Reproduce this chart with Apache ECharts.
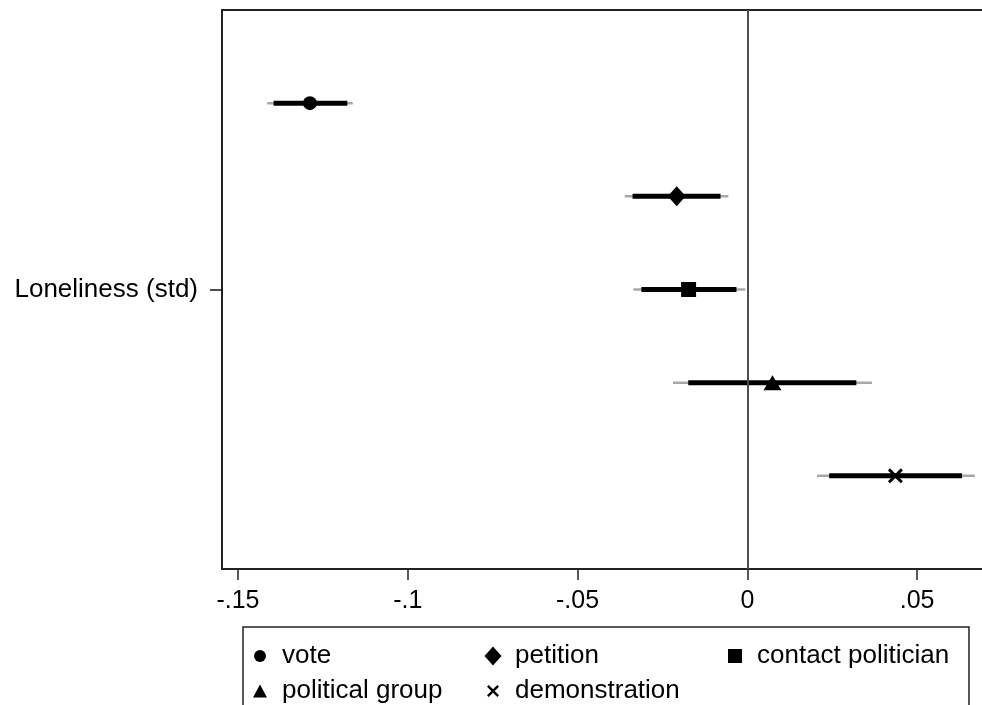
<!DOCTYPE html>
<html>
<head>
<meta charset="utf-8">
<script src="https://cdn.jsdelivr.net/npm/echarts@6/dist/echarts.min.js"></script>
<style>
  html, body { margin: 0; padding: 0; background: #fff; }
  #chart { width: 982px; height: 705px; }
</style>
</head>
<body>
<div id="chart"></div>
<script>
// Effect of standardized loneliness on five forms of political participation
const models = ['vote', 'petition', 'contact politician', 'political group', 'demonstration'];
const coef = [-0.1288, -0.0208, -0.0173, 0.0074, 0.0436];
// narrower interval (thick bar)
const innerLo = [-0.1395, -0.0338, -0.0312, -0.0174, 0.0241];
const innerHi = [-0.1178, -0.0079, -0.0032, 0.0321, 0.0632];
// wider interval (thin grey whisker)
const outerLo = [-0.1414, -0.0361, -0.0336, -0.0219, 0.0205];
const outerHi = [-0.1162, -0.0056, -0.0006, 0.0367, 0.0670];
const xTicks = [-0.15, -0.1, -0.05, 0, 0.05];
const rowLabel = 'Loneliness (std)';

const FONT = 'Liberation Sans, Arial, sans-serif';
const crossPath = 'path://M0,1.4L1.4,0L5,3.6L8.6,0L10,1.4L6.4,5L10,8.6L8.6,10L5,6.4L1.4,10L0,8.6L3.6,5Z';
const symbols = {
  'vote': { symbol: 'circle', size: 14, legend: [12, 12] },
  'petition': { symbol: 'diamond', size: [18, 20], legend: [17, 19] },
  'contact politician': { symbol: 'rect', size: 15, legend: [14, 14] },
  'political group': { symbol: 'triangle', size: [18, 15], legend: [14, 13] },
  'demonstration': { symbol: crossPath, size: 15, legend: [12, 12] }
};

function fmtTick(v) {
  if (v === 0) return '0';
  const s = String(Math.abs(v)).replace(/^0/, '');
  return (v < 0 ? '-' : '') + s;
}

// row offsets: models stacked around the single coefficient row
const rowPos = models.map((m, i) => i + 1);

const ciData = models.map((m, i) => [outerLo[i], outerHi[i], innerLo[i], innerHi[i], rowPos[i]]);

const series = [{
  name: 'ci',
  type: 'custom',
  silent: true,
  z: 2,
  data: ciData,
  encode: { x: [0, 1], y: 4 },
  renderItem: function (params, api) {
    const y = api.value(4);
    const o1 = api.coord([api.value(0), y]);
    const o2 = api.coord([api.value(1), y]);
    const i1 = api.coord([api.value(2), y]);
    const i2 = api.coord([api.value(3), y]);
    return {
      type: 'group',
      children: [{
        type: 'line',
        shape: { x1: o1[0], y1: o1[1], x2: o2[0], y2: o2[1] },
        style: { stroke: '#a8a8a8', lineWidth: 2.5, lineCap: 'butt' }
      }, {
        type: 'line',
        shape: { x1: i1[0], y1: i1[1], x2: i2[0], y2: i2[1] },
        style: { stroke: '#000', lineWidth: 5, lineCap: 'butt' }
      }]
    };
  },
  markLine: {
    silent: true,
    symbol: 'none',
    label: { show: false },
    lineStyle: { color: '#4d4d4d', width: 2, type: 'solid' },
    data: [{ xAxis: 0 }]
  }
}];

models.forEach((m, i) => {
  series.push({
    name: m,
    type: 'scatter',
    z: 5,
    symbol: symbols[m].symbol,
    symbolSize: symbols[m].size,
    itemStyle: { color: '#000', opacity: 1 },
    data: [[coef[i], rowPos[i]]]
  });
});

// one legend entry per slot so each key symbol keeps its own size
function legendItem(name, iconCenterX, rowCenterY) {
  const [w, h] = symbols[name].legend;
  return {
    data: [{ name: name, icon: symbols[name].symbol }],
    left: iconCenterX - w / 2,
    top: rowCenterY - 13,
    padding: 0,
    itemWidth: w,
    itemHeight: h,
    itemGap: 0,
    selectedMode: false,
    textStyle: {
      fontFamily: FONT, fontSize: 26, color: '#000', lineHeight: 26,
      padding: [0, 0, 0, 22 - w / 2 - 5]
    }
  };
}

const chart = echarts.init(document.getElementById('chart'), null, { renderer: 'canvas' });
chart.setOption({
  backgroundColor: '#fff',
  animation: false,
  grid: { left: 222, right: 0, top: 10, bottom: 136, show: false },
  xAxis: [{
    type: 'value',
    position: 'bottom',
    min: -0.1547,
    max: 0.0691,
    splitLine: { show: false },
    axisLine: { show: true, onZero: false, lineStyle: { color: '#222', width: 2 } },
    axisTick: { show: true, length: 11, customValues: xTicks, lineStyle: { color: '#222', width: 1.5 } },
    axisLabel: {
      customValues: xTicks, margin: 20,
      formatter: fmtTick,
      fontFamily: FONT, fontSize: 25, color: '#000'
    }
  }, {
    // top frame of the plot region
    type: 'value',
    position: 'top',
    min: -0.1547,
    max: 0.0691,
    splitLine: { show: false },
    axisLine: { show: true, onZero: false, lineStyle: { color: '#222', width: 2 } },
    axisTick: { show: false },
    axisLabel: { show: false }
  }],
  yAxis: {
    type: 'value',
    min: 0,
    max: models.length + 1,
    inverse: true,
    splitLine: { show: false },
    axisLine: { show: true, onZero: false, lineStyle: { color: '#222', width: 2 } },
    axisTick: { show: true, length: 12, customValues: [(models.length + 1) / 2], lineStyle: { color: '#111', width: 1.5 } },
    axisLabel: {
      customValues: [(models.length + 1) / 2], margin: 24,
      formatter: function () { return rowLabel; },
      fontFamily: FONT, fontSize: 26, color: '#000'
    }
  },
  legend: [
    legendItem('vote', 260, 656),
    legendItem('petition', 493, 656),
    legendItem('contact politician', 735, 656),
    legendItem('political group', 260, 691),
    legendItem('demonstration', 493, 691)
  ],
  graphic: [{
    type: 'rect',
    silent: true,
    shape: { x: 243, y: 627, width: 726, height: 100 },
    style: { fill: 'none', stroke: '#222', lineWidth: 1.5 }
  }],
  series: series
});
</script>
</body>
</html>
